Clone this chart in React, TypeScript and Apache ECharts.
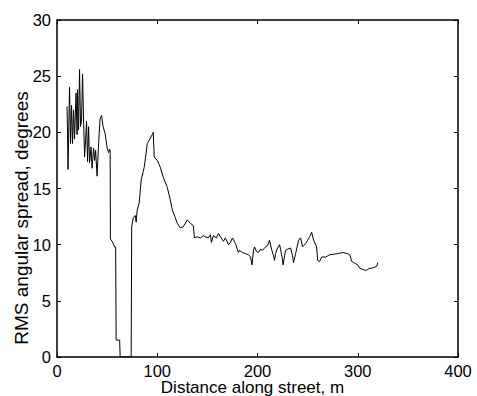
import React, { useEffect, useRef } from "react";
import * as echarts from "echarts";

const distance: number[] = [
  10, 10.5, 11, 12.5, 13.5, 14.5, 15.5, 16.5, 17.5, 19, 20, 20.5, 21.5, 22.5, 23.5, 24.5, 25.5, 26.5, 27.5, 28.5,
  29.5, 30.5, 31.5, 32.5, 34, 35, 36.5, 37.5, 38.5, 40, 41.5, 43, 44.5, 46, 48, 50, 51.5, 52.5, 53, 53.3,
  55, 57.5, 58.5, 59, 62.5, 63, 74, 74.5, 76, 78, 79, 80, 82, 84, 86, 87, 89, 90, 92, 95,
  96, 97, 100, 103, 106, 110, 113, 115, 118, 120, 123, 126, 130, 133, 136, 137, 140, 143, 146, 148,
  151, 153, 154, 156, 159, 161, 163, 166, 168, 171, 173, 175, 178, 181, 182, 185, 188, 191, 193, 194.5,
  196, 197, 199, 201, 203, 205, 208, 210, 212, 214, 216, 217, 218, 220, 222, 223, 224.5, 225.5, 227, 228,
  230, 233, 235, 236, 238, 241, 243, 245, 246, 248, 250, 252, 254, 256, 259, 260, 262, 264, 268, 272,
  280, 285, 290, 292, 294, 296, 300, 302, 305, 308, 310, 312, 314, 317, 319, 320,
];

const spread: number[] = [
  22.3, 20.1, 16.7, 24.0, 19.0, 22.4, 19.0, 22.0, 19.4, 23.5, 19.8, 23.8, 20.2, 25.6, 20.5, 21.1, 25.2, 21.1, 17.8, 19.3,
  21.0, 17.4, 20.5, 17.3, 18.7, 16.8, 18.6, 17.5, 18.4, 16.1, 19.0, 21.2, 21.5, 20.5, 19.9, 18.6, 18.2, 18.5, 18.4, 10.5,
  10.3, 9.8, 9.8, 1.5, 1.5, 0, 0, 11.6, 12.4, 12.6, 12.0, 13.1, 13.7, 15.8, 16.5, 16.9, 18.2, 19.0, 19.3, 19.8,
  20.0, 17.8, 17.5, 16.9, 16.0, 15.1, 14.0, 13.1, 12.4, 11.9, 11.5, 11.6, 12.2, 11.9, 11.7, 10.6, 10.7, 10.6, 10.8, 10.7,
  10.6, 10.9, 10.2, 10.8, 10.6, 11.0, 10.7, 10.3, 10.6, 10.0, 10.2, 10.6, 10.1, 9.3, 9.5, 9.3, 9.2, 9.1, 8.9, 8.2,
  9.5, 9.8, 9.4, 9.3, 9.6, 9.5, 9.8, 9.9, 10.4, 9.6, 9.0, 8.6, 9.2, 9.7, 10.0, 9.6, 8.9, 8.2, 9.0, 9.5,
  9.6, 9.7, 9.0, 8.4, 9.2, 10.4, 10.6, 9.8, 9.9, 10.1, 10.4, 10.7, 11.1, 10.4, 9.8, 8.6, 8.5, 8.9, 8.9, 9.1,
  9.2, 9.3, 9.2, 9.1, 8.5, 8.4, 8.2, 7.9, 7.8, 7.7, 7.8, 7.9, 7.9, 8.0, 8.1, 8.4,
];

const xTicks: number[] = [0, 100, 200, 300, 400];
const yTicks: number[] = [0, 5, 10, 15, 20, 25, 30];
const xTitle = "Distance along street, m";
const yTitle = "RMS angular spread, degrees";

const FONT = "Liberation Sans, Arial, sans-serif";

const mkLine = () => ({ show: true, onZero: false, lineStyle: { color: "#000", width: 1.5 } });
const mkTick = () => ({ show: true, inside: true, length: 4, lineStyle: { color: "#000", width: 1 } });

export default function App() {
  const ref = useRef<HTMLDivElement>(null);
  useEffect(() => {
    if (!ref.current) return;
    const chart = echarts.init(ref.current, null, { renderer: "svg" });
    const data = distance.map((d, i) => [d, spread[i]]);
    chart.setOption({
      animation: false,
      backgroundColor: "#fff",
      grid: { left: 57, right: 19, top: 20, bottom: 39, containLabel: false, outerBoundsMode: "none" },
      graphic: [
        {
          type: "text",
          x: 252.5,
          y: 379,
          style: {
            text: xTitle,
            font: `17px ${FONT}`,
            fill: "#000",
            align: "center",
            verticalAlign: "top",
          },
        },
        {
          type: "text",
          x: 21.5,
          y: 218,
          rotation: Math.PI / 2,
          style: {
            text: yTitle,
            font: `19px ${FONT}`,
            fill: "#000",
            align: "center",
            verticalAlign: "middle",
          },
        },
      ],
      xAxis: [
        {
          type: "value",
          min: xTicks[0],
          max: xTicks[xTicks.length - 1],
          interval: 100,
          position: "bottom",
          axisLine: mkLine(),
          axisTick: mkTick(),
          axisLabel: { color: "#000", fontSize: 16.5, fontFamily: FONT, margin: 5 },
          splitLine: { show: false },
        },
        {
          type: "value",
          min: xTicks[0],
          max: xTicks[xTicks.length - 1],
          interval: 100,
          position: "top",
          axisLine: mkLine(),
          axisTick: mkTick(),
          axisLabel: { show: false },
          splitLine: { show: false },
        },
      ],
      yAxis: [
        {
          type: "value",
          min: yTicks[0],
          max: yTicks[yTicks.length - 1],
          interval: 5,
          position: "left",
          axisLine: mkLine(),
          axisTick: mkTick(),
          axisLabel: { color: "#000", fontSize: 16.5, fontFamily: FONT, margin: 6 },
          splitLine: { show: false },
        },
        {
          type: "value",
          min: yTicks[0],
          max: yTicks[yTicks.length - 1],
          interval: 5,
          position: "right",
          axisLine: mkLine(),
          axisTick: mkTick(),
          axisLabel: { show: false },
          splitLine: { show: false },
        },
      ],
      series: [
        {
          type: "line",
          xAxisIndex: 0,
          yAxisIndex: 0,
          data,
          showSymbol: false,
          lineStyle: { color: "#000", width: 1 },
        },
      ],
    });
    return () => chart.dispose();
  }, []);
  return <div ref={ref} style={{ width: 477, height: 396, position: "absolute", left: 0, top: 0 }} />;
}
